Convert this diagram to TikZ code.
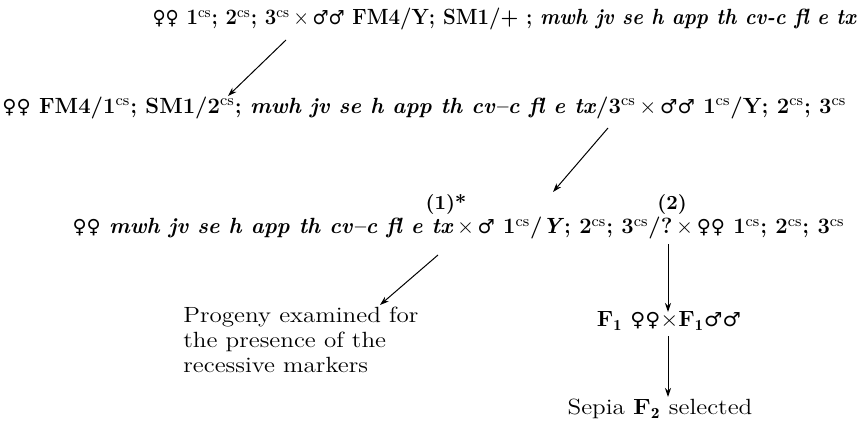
\documentclass[tikz,border=0pt]{standalone}
\usepackage{fontspec}
\usepackage{graphicx}
\usetikzlibrary{arrows.meta}
\newfontfamily\symfont{DejaVu Sans}
\newcommand\Fsym{{\symfont\mdseries\upshape\scalebox{0.88}{♀}}}
\newcommand\Msym{{\symfont\mdseries\upshape\scalebox{0.88}{♂}}}
\newcommand\csup{\textsuperscript{\mdseries cs}}
\newcommand\crs{\,$\times$\,}
\newcommand\fitto[2]{\resizebox{#1}{\height}{#2}}
\newcommand\wide[1]{\scalebox{1.14}[1]{#1}}
\begin{document}
\begin{tikzpicture}[x=0.5pt,y=-0.5pt,
  txt/.style={inner sep=0pt,font=\fontsize{11}{12}\selectfont},
  btxt/.style={txt,font=\fontsize{11}{12}\selectfont\bfseries},
  lbl/.style={inner sep=0pt,font=\fontsize{10}{12}\selectfont\bfseries},
  arr/.style={-{Stealth[length=4.5pt,width=3pt]},line width=0.5pt}]
\useasboundingbox (0,0) rectangle (859,428);
\node[btxt,anchor=base east] (l1) at (857,25) {\fitto{352pt}{\Fsym\Fsym\ 1\csup; 2\csup; 3\csup\crs\Msym\Msym\ FM4/Y; SM1/+ ; \textit{mwh jv se h app th cv-c fl e tx}}};
\node[btxt,anchor=base west] (l2) at (2,113) {\fitto{422pt}{\Fsym\Fsym\ FM4/1\csup; SM1/2\csup; \textit{mwh jv se h app th cv--c fl e tx}/3\csup\crs\Msym\Msym\ 1\csup/Y; 2\csup; 3\csup}};
\node[lbl,anchor=base] (n1) at (446,209) {(1)*};
\node[lbl,anchor=base] (n2) at (672,209) {(2)};
\node[btxt,anchor=base east] (l3) at (845,234) {\fitto{386pt}{\Fsym\Fsym\ \textit{mwh jv se h app th cv--c fl e tx}\crs\Msym\ 1\csup/\textit{Y}; 2\csup; 3\csup/?\crs\Fsym\Fsym\ 1\csup; 2\csup; 3\csup}};
\node[txt,anchor=base west] (prog) at (183,322) {\wide{\begin{tabular}[t]{@{}l@{}}Progeny examined for\\[0.5pt]the presence of the\\[0.5pt]recessive markers\end{tabular}}};
\node[txt,anchor=base] (f1) at (669,327) {\fitto{72pt}{\textbf{F$_{\mathbf 1}$} \Fsym\Fsym$\times$\textbf{F$_{\mathbf 1}$}\Msym\Msym}};
\node[txt,anchor=base] (sep) at (660,415) {\wide{Sepia \textbf{F$_{\mathbf 2}$} selected}};
\coordinate (a1s) at (286,40);
\coordinate (a1e) at (228,96);
\coordinate (a2s) at (608,128);
\coordinate (a2e) at (553,192);
\coordinate (a3s) at (438,255);
\coordinate (a3e) at (380,305);
\coordinate (v1s) at (668,244);
\coordinate (v1e) at (668,312);
\coordinate (v2s) at (668,336);
\coordinate (v2e) at (668,397);
\draw[arr] (a1s) -- (a1e);
\draw[arr] (a2s) -- (a2e);
\draw[arr] (a3s) -- (a3e);
\draw[arr] (v1s) -- (v1e);
\draw[arr] (v2s) -- (v2e);
\end{tikzpicture}
\end{document}
